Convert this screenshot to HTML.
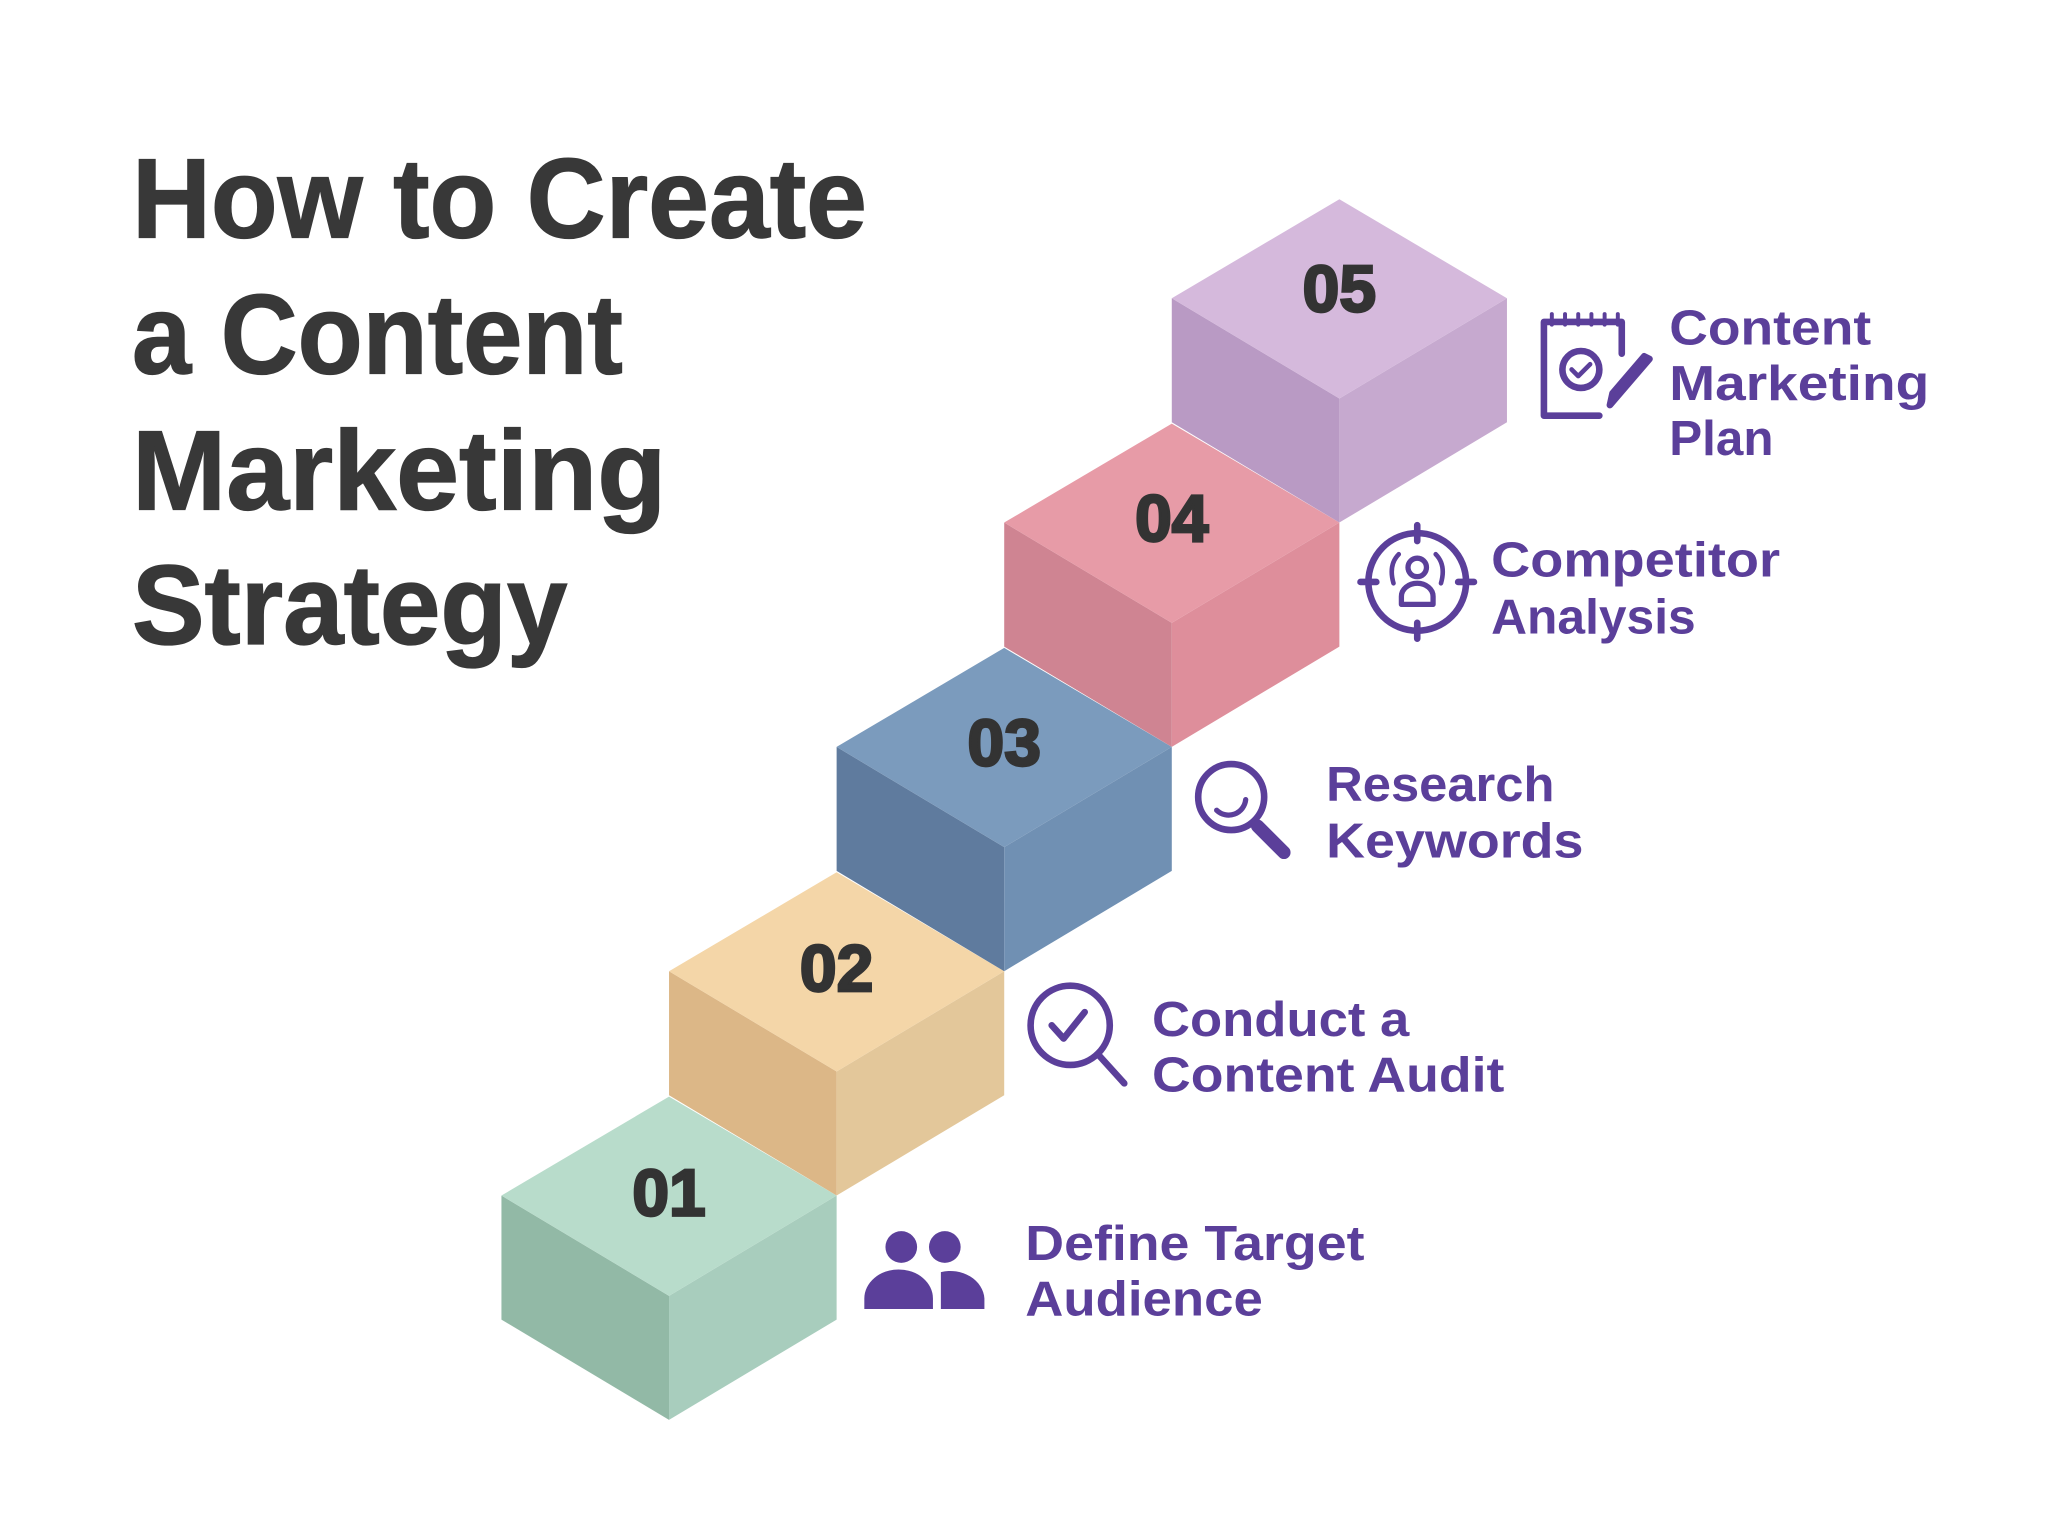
<!DOCTYPE html>
<html><head><meta charset="utf-8"><style>
html,body{margin:0;padding:0;background:#fff;}
svg{display:block}
.t{font-family:"Liberation Sans",sans-serif;font-weight:bold;fill:#383838;stroke:#383838;stroke-width:1}
.l{font-family:"Liberation Sans",sans-serif;font-weight:bold;fill:#5b3f9a;font-size:37px}
.n{font-family:"Liberation Sans",sans-serif;font-weight:bold;fill:#333;stroke:#333;stroke-width:2;font-size:50px;text-anchor:middle}
</style></head><body>
<svg width="2048" height="1536" viewBox="0 0 1552 1164" xmlns="http://www.w3.org/2000/svg">
<rect width="1552" height="1164" fill="#fff"/>
<g class="t" font-size="86">
<text x="100" y="180" textLength="557" lengthAdjust="spacingAndGlyphs">How to Create</text>
<text x="100" y="283" textLength="372" lengthAdjust="spacingAndGlyphs">a Content</text>
<text x="100" y="386" textLength="405" lengthAdjust="spacingAndGlyphs">Marketing</text>
<text x="100" y="488" textLength="330" lengthAdjust="spacingAndGlyphs">Strategy</text>
</g>
<g>
<polygon points="380,906 507,982 507,1076 380,1000" fill="#92b9a6"/>
<polygon points="634,906 507,982 507,1076 634,1000" fill="#a8cdbd"/>
<polygon points="507,831 634,906 507,982 380,906" fill="#b8dccb"/>
<polygon points="507,736 634,812 634,906 507,830" fill="#dcb787"/>
<polygon points="761,736 634,812 634,906 761,830" fill="#e3c79a"/>
<polygon points="634,661 761,736 634,812 507,736" fill="#f4d6a8"/>
<polygon points="634,566 761,642 761,736 634,660" fill="#5f7b9e"/>
<polygon points="888,566 761,642 761,736 888,660" fill="#7090b3"/>
<polygon points="761,491 888,566 761,642 634,566" fill="#7b9bbd"/>
<polygon points="761,396 888,472 888,566 761,490" fill="#cf8492"/>
<polygon points="1015,396 888,472 888,566 1015,490" fill="#de8e9b"/>
<polygon points="888,321 1015,396 888,472 761,396" fill="#e79ba7"/>
<polygon points="888,226 1015,302 1015,396 888,320" fill="#b99ac4"/>
<polygon points="1142,226 1015,302 1015,396 1142,320" fill="#c6a9cf"/>
<polygon points="1015,151 1142,226 1015,302 888,226" fill="#d5b9dc"/>
</g>
<text class="n" x="507" y="921">01</text>
<text class="n" x="634" y="751">02</text>
<text class="n" x="761" y="580">03</text>
<text class="n" x="888" y="410">04</text>
<text class="n" x="1015" y="236">05</text>
<g class="l">
<text x="1265" y="261" textLength="153" lengthAdjust="spacingAndGlyphs">Content</text>
<text x="1265" y="303" textLength="197" lengthAdjust="spacingAndGlyphs">Marketing</text>
<text x="1265" y="345" textLength="79" lengthAdjust="spacingAndGlyphs">Plan</text>
<text x="1130" y="437" textLength="219" lengthAdjust="spacingAndGlyphs">Competitor</text>
<text x="1130" y="480" textLength="155" lengthAdjust="spacingAndGlyphs">Analysis</text>
<text x="1005" y="607" textLength="173" lengthAdjust="spacingAndGlyphs">Research</text>
<text x="1005" y="650" textLength="195" lengthAdjust="spacingAndGlyphs">Keywords</text>
<text x="873" y="785" textLength="195" lengthAdjust="spacingAndGlyphs">Conduct a</text>
<text x="873" y="827" textLength="267" lengthAdjust="spacingAndGlyphs">Content Audit</text>
<text x="777" y="955" textLength="257" lengthAdjust="spacingAndGlyphs">Define Target</text>
<text x="777" y="997" textLength="180" lengthAdjust="spacingAndGlyphs">Audience</text>
</g>
<g fill="none" stroke="#5b3f9a" stroke-width="5" stroke-linecap="round" stroke-linejoin="round">
<path d="M1212,315 H1170 V244 H1229 V268"/>
<path d="M1176,238v8 M1186,238v8 M1196,238v8 M1206,238v8 M1216,238v8 M1226,238v8" stroke-width="3"/>
<circle cx="1198" cy="280" r="14"/>
<path d="M1191,280 l5,5 l9,-9" stroke-width="3.5"/>
<path d="M1250,272 L1226,300 L1220,307 L1222,298 L1246,270 Z" fill="#5b3f9a"/>
<circle cx="1074" cy="441" r="37"/>
<path d="M1074,398v12 M1074,472v12 M1031,441h12 M1105,441h12"/>
<circle cx="1074" cy="430" r="7" stroke-width="4"/>
<path d="M1062,458 v-6 a12,10 0 0 1 24,0 v6 z" stroke-width="4"/>
<path d="M1060,420 q-8,8 -4,22 M1088,420 q8,8 4,22" stroke-width="3.5"/>
<circle cx="933" cy="604" r="25"/>
<path d="M922,614 a13,13 0 0 0 22,-8" stroke-width="4"/>
<path d="M953,626 L973,646" stroke-width="10"/>
<circle cx="811" cy="777" r="30"/>
<path d="M797,777 l9,10 l16,-20" stroke-width="5"/>
<path d="M833,800 L852,821"/>
</g>
<g fill="#5b3f9a">
<circle cx="683" cy="945" r="12"/>
<circle cx="716" cy="945" r="12"/>
<path d="M655,992 v-8 a26,22 0 0 1 52,0 v8 z"/>
<path d="M713,992 v-28 a26,22 0 0 1 33,20 v8 h-12 z"/>
</g>
</svg>
</body></html>
